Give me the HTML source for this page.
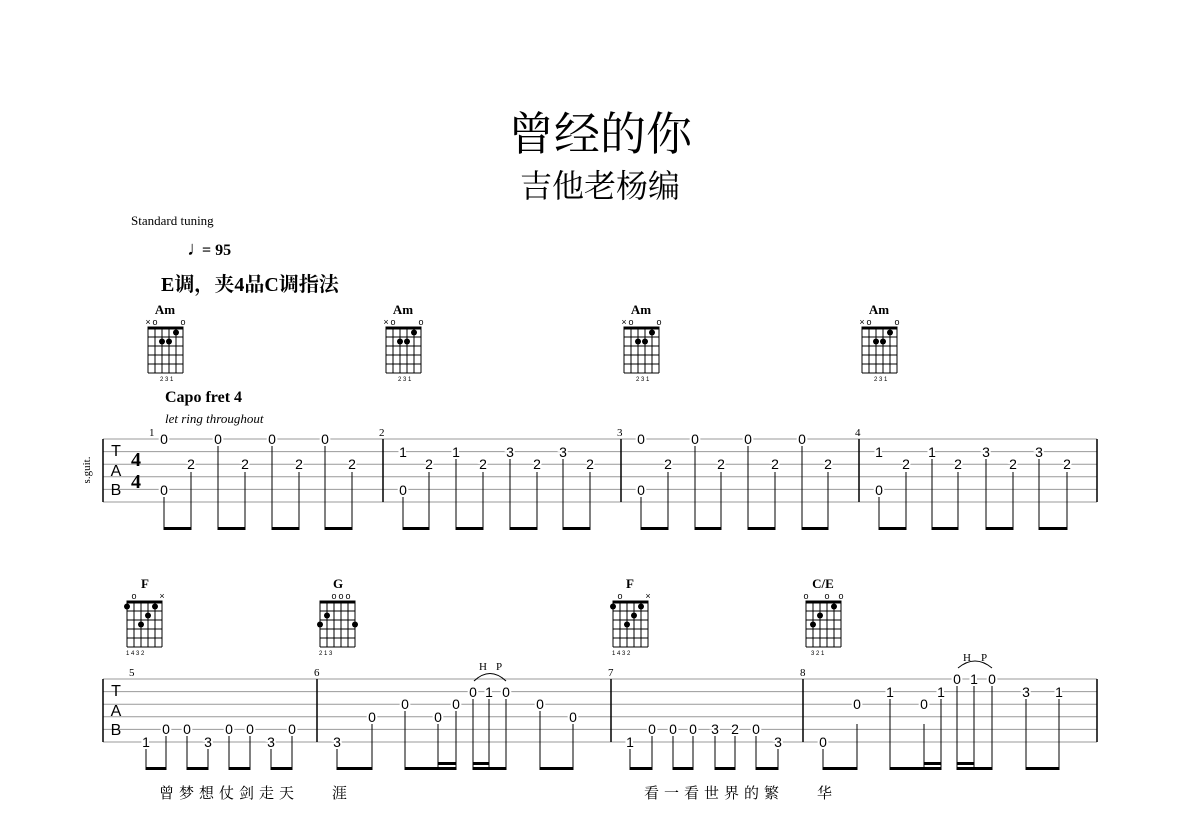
<!DOCTYPE html>
<html><head><meta charset="utf-8"><style>
html,body{margin:0;padding:0;background:#fff;width:1200px;height:832px;overflow:hidden}
svg{display:block}
.t{font-family:"Liberation Sans",sans-serif;font-size:14px;text-anchor:middle;fill:#000;stroke:#fff;stroke-width:4px;paint-order:stroke}
.sm{font-family:"Liberation Serif",serif;font-size:11px;fill:#000}
.cn{font-family:"Liberation Serif",serif;font-weight:bold;font-size:13px;text-anchor:middle}
.fg{font-family:"Liberation Sans",sans-serif;font-size:6px;fill:#000}
.oc{font-family:"Liberation Sans",sans-serif;font-size:9px;text-anchor:middle}
.ly{font-family:"Liberation Serif","Noto Serif CJK SC",serif;font-size:15px;letter-spacing:5px}
</style></head><body>
<svg width="1200" height="832" viewBox="0 0 1200 832" xmlns="http://www.w3.org/2000/svg">
<defs>
<g id="grid" stroke="#000" stroke-width="1" fill="none">
<line x1="0" y1="0" x2="0" y2="45"/><line x1="7" y1="0" x2="7" y2="45"/><line x1="14" y1="0" x2="14" y2="45"/><line x1="21" y1="0" x2="21" y2="45"/><line x1="28" y1="0" x2="28" y2="45"/><line x1="35" y1="0" x2="35" y2="45"/>
<line x1="0" y1="9" x2="35" y2="9"/><line x1="0" y1="18" x2="35" y2="18"/><line x1="0" y1="27" x2="35" y2="27"/><line x1="0" y1="36" x2="35" y2="36"/><line x1="0" y1="45" x2="35" y2="45"/>
<line x1="-0.5" y1="0" x2="35.5" y2="0" stroke-width="3"/>
</g>
<g id="am">
<use href="#grid"/>
<text x="0" y="-3" class="oc">×</text><text x="7" y="-3" class="oc">o</text><text x="35" y="-3" class="oc">o</text>
<circle cx="14" cy="13.5" r="3"/><circle cx="21" cy="13.5" r="3"/><circle cx="28" cy="4.5" r="3"/>
<text x="12" y="53" class="fg">2 3 1</text>
</g>
</defs>

<text x="600" y="150" text-anchor="middle" font-family="'Noto Serif CJK SC',serif" font-size="46">曾经的你</text>
<text x="600" y="197" text-anchor="middle" font-family="'Noto Serif CJK SC',serif" font-size="32">吉他老杨编</text>
<text x="131" y="225" font-family="'Liberation Serif',serif" font-size="13">Standard tuning</text>
<text x="187" y="255" font-family="'Liberation Serif',serif" font-size="20">♩</text>
<text x="202" y="255" font-family="'Liberation Serif',serif" font-weight="bold" font-size="16">= 95</text>
<text x="161" y="291" font-family="'Liberation Serif','Noto Serif CJK SC',serif" font-weight="bold" font-size="20">E调，夹4品C调指法</text>

<text x="165" y="314" class="cn">Am</text><use href="#am" x="148" y="328"/>
<text x="403" y="314" class="cn">Am</text><use href="#am" x="386" y="328"/>
<text x="641" y="314" class="cn">Am</text><use href="#am" x="624" y="328"/>
<text x="879" y="314" class="cn">Am</text><use href="#am" x="862" y="328"/>

<text x="165" y="402" font-family="'Liberation Serif',serif" font-weight="bold" font-size="16">Capo fret 4</text>
<text x="165" y="423" font-family="'Liberation Serif',serif" font-style="italic" font-size="13">let ring throughout</text>

<!-- system 1 -->
<g stroke="#999" stroke-width="1">
<line x1="103" y1="439" x2="1097" y2="439"/><line x1="103" y1="451.6" x2="1097" y2="451.6"/><line x1="103" y1="464.2" x2="1097" y2="464.2"/><line x1="103" y1="476.8" x2="1097" y2="476.8"/><line x1="103" y1="489.4" x2="1097" y2="489.4"/><line x1="103" y1="502" x2="1097" y2="502"/>
</g>
<g stroke="#000" stroke-width="1.5">
<line x1="103" y1="439" x2="103" y2="502"/><line x1="383" y1="439" x2="383" y2="502"/><line x1="621" y1="439" x2="621" y2="502"/><line x1="859" y1="439" x2="859" y2="502"/><line x1="1097" y1="439" x2="1097" y2="502"/>
</g>
<text x="90" y="470" class="sm" transform="rotate(-90 90 470)" text-anchor="middle">s.guit.</text>
<g font-family="'Liberation Sans',sans-serif" font-size="16" text-anchor="middle"><text x="116" y="456">T</text><text x="116" y="476">A</text><text x="116" y="495">B</text></g>
<g font-family="'Liberation Serif',serif" font-weight="bold" font-size="20" text-anchor="middle"><text x="136" y="466">4</text><text x="136" y="488">4</text></g>
<text x="149" y="436" class="sm">1</text><text x="379" y="436" class="sm">2</text><text x="617" y="436" class="sm">3</text><text x="855" y="436" class="sm">4</text>

<g stroke="#000" stroke-width="1">
<line x1="164" y1="497" x2="164" y2="530"/><line x1="191" y1="472" x2="191" y2="530"/><line x1="218" y1="446" x2="218" y2="530"/><line x1="245" y1="472" x2="245" y2="530"/><line x1="272" y1="446" x2="272" y2="530"/><line x1="299" y1="472" x2="299" y2="530"/><line x1="325" y1="446" x2="325" y2="530"/><line x1="352" y1="472" x2="352" y2="530"/>
<line x1="403" y1="497" x2="403" y2="530"/><line x1="429" y1="472" x2="429" y2="530"/><line x1="456" y1="459" x2="456" y2="530"/><line x1="483" y1="472" x2="483" y2="530"/><line x1="510" y1="459" x2="510" y2="530"/><line x1="537" y1="472" x2="537" y2="530"/><line x1="563" y1="459" x2="563" y2="530"/><line x1="590" y1="472" x2="590" y2="530"/>
<line x1="641" y1="497" x2="641" y2="530"/><line x1="668" y1="472" x2="668" y2="530"/><line x1="695" y1="446" x2="695" y2="530"/><line x1="721" y1="472" x2="721" y2="530"/><line x1="748" y1="446" x2="748" y2="530"/><line x1="775" y1="472" x2="775" y2="530"/><line x1="802" y1="446" x2="802" y2="530"/><line x1="828" y1="472" x2="828" y2="530"/>
<line x1="879" y1="497" x2="879" y2="530"/><line x1="906" y1="472" x2="906" y2="530"/><line x1="932" y1="459" x2="932" y2="530"/><line x1="958" y1="472" x2="958" y2="530"/><line x1="986" y1="459" x2="986" y2="530"/><line x1="1013" y1="472" x2="1013" y2="530"/><line x1="1039" y1="459" x2="1039" y2="530"/><line x1="1067" y1="472" x2="1067" y2="530"/>
</g>
<g fill="#000">
<rect x="164" y="527" width="27" height="3"/><rect x="218" y="527" width="27" height="3"/><rect x="272" y="527" width="27" height="3"/><rect x="325" y="527" width="27" height="3"/>
<rect x="403" y="527" width="26" height="3"/><rect x="456" y="527" width="27" height="3"/><rect x="510" y="527" width="27" height="3"/><rect x="563" y="527" width="27" height="3"/>
<rect x="641" y="527" width="27" height="3"/><rect x="695" y="527" width="26" height="3"/><rect x="748" y="527" width="27" height="3"/><rect x="802" y="527" width="26" height="3"/>
<rect x="879" y="527" width="27" height="3"/><rect x="932" y="527" width="26" height="3"/><rect x="986" y="527" width="27" height="3"/><rect x="1039" y="527" width="28" height="3"/>
</g>
<g class="t">
<text x="164" y="444" class="t">0</text><text x="164" y="495" class="t">0</text><text x="191" y="469" class="t">2</text><text x="218" y="444" class="t">0</text><text x="245" y="469" class="t">2</text><text x="272" y="444" class="t">0</text><text x="299" y="469" class="t">2</text><text x="325" y="444" class="t">0</text><text x="352" y="469" class="t">2</text>
<text x="403" y="457" class="t">1</text><text x="403" y="495" class="t">0</text><text x="429" y="469" class="t">2</text><text x="456" y="457" class="t">1</text><text x="483" y="469" class="t">2</text><text x="510" y="457" class="t">3</text><text x="537" y="469" class="t">2</text><text x="563" y="457" class="t">3</text><text x="590" y="469" class="t">2</text>
<text x="641" y="444" class="t">0</text><text x="641" y="495" class="t">0</text><text x="668" y="469" class="t">2</text><text x="695" y="444" class="t">0</text><text x="721" y="469" class="t">2</text><text x="748" y="444" class="t">0</text><text x="775" y="469" class="t">2</text><text x="802" y="444" class="t">0</text><text x="828" y="469" class="t">2</text>
<text x="879" y="457" class="t">1</text><text x="879" y="495" class="t">0</text><text x="906" y="469" class="t">2</text><text x="932" y="457" class="t">1</text><text x="958" y="469" class="t">2</text><text x="986" y="457" class="t">3</text><text x="1013" y="469" class="t">2</text><text x="1039" y="457" class="t">3</text><text x="1067" y="469" class="t">2</text>
</g>

<!-- chords system 2 -->
<text x="145" y="588" class="cn">F</text>
<g transform="translate(127,602)"><use href="#grid"/><text x="7" y="-3" class="oc">o</text><text x="35" y="-3" class="oc">×</text>
<circle cx="0" cy="4.5" r="3"/><circle cx="14" cy="22.5" r="3"/><circle cx="21" cy="13.5" r="3"/><circle cx="28" cy="4.5" r="3"/><text x="-1" y="53" class="fg">1   4 3 2</text></g>
<text x="338" y="588" class="cn">G</text>
<g transform="translate(320,602)"><use href="#grid"/><text x="14" y="-3" class="oc">o</text><text x="21" y="-3" class="oc">o</text><text x="28" y="-3" class="oc">o</text>
<circle cx="0" cy="22.5" r="3"/><circle cx="7" cy="13.5" r="3"/><circle cx="35" cy="22.5" r="3"/><text x="-1" y="53" class="fg">2 1           3</text></g>
<text x="630" y="588" class="cn">F</text>
<g transform="translate(613,602)"><use href="#grid"/><text x="7" y="-3" class="oc">o</text><text x="35" y="-3" class="oc">×</text>
<circle cx="0" cy="4.5" r="3"/><circle cx="14" cy="22.5" r="3"/><circle cx="21" cy="13.5" r="3"/><circle cx="28" cy="4.5" r="3"/><text x="-1" y="53" class="fg">1   4 3 2</text></g>
<text x="823" y="588" class="cn">C/E</text>
<g transform="translate(806,602)"><use href="#grid"/><text x="0" y="-3" class="oc">o</text><text x="21" y="-3" class="oc">o</text><text x="35" y="-3" class="oc">o</text>
<circle cx="7" cy="22.5" r="3"/><circle cx="14" cy="13.5" r="3"/><circle cx="28" cy="4.5" r="3"/><text x="5" y="53" class="fg">3 2     1</text></g>

<!-- system 2 -->
<g stroke="#999" stroke-width="1">
<line x1="103" y1="679" x2="1097" y2="679"/><line x1="103" y1="691.6" x2="1097" y2="691.6"/><line x1="103" y1="704.2" x2="1097" y2="704.2"/><line x1="103" y1="716.8" x2="1097" y2="716.8"/><line x1="103" y1="729.4" x2="1097" y2="729.4"/><line x1="103" y1="742" x2="1097" y2="742"/>
</g>
<g stroke="#000" stroke-width="1.5">
<line x1="103" y1="679" x2="103" y2="742"/><line x1="317" y1="679" x2="317" y2="742"/><line x1="611" y1="679" x2="611" y2="742"/><line x1="803" y1="679" x2="803" y2="742"/><line x1="1097" y1="679" x2="1097" y2="742"/>
</g>
<g font-family="'Liberation Sans',sans-serif" font-size="16" text-anchor="middle"><text x="116" y="696">T</text><text x="116" y="716">A</text><text x="116" y="735">B</text></g>
<text x="129" y="676" class="sm">5</text><text x="314" y="676" class="sm">6</text><text x="608" y="676" class="sm">7</text><text x="800" y="676" class="sm">8</text>
<text x="483" y="670" class="sm" text-anchor="middle">H</text><text x="499" y="670" class="sm" text-anchor="middle">P</text>
<text x="967" y="661" class="sm" text-anchor="middle">H</text><text x="984" y="661" class="sm" text-anchor="middle">P</text>
<path d="M474 681 Q490 666 506 681" fill="none" stroke="#000"/>
<path d="M958 668 Q975 654 992 668" fill="none" stroke="#000"/>

<g stroke="#000" stroke-width="1">
<line x1="146" y1="749" x2="146" y2="770"/><line x1="166" y1="736" x2="166" y2="770"/><line x1="187" y1="736" x2="187" y2="770"/><line x1="208" y1="749" x2="208" y2="770"/><line x1="229" y1="736" x2="229" y2="770"/><line x1="250" y1="736" x2="250" y2="770"/><line x1="271" y1="749" x2="271" y2="770"/><line x1="292" y1="736" x2="292" y2="770"/>
<line x1="337" y1="749" x2="337" y2="770"/><line x1="372" y1="724" x2="372" y2="770"/><line x1="405" y1="711" x2="405" y2="770"/><line x1="438" y1="724" x2="438" y2="770"/><line x1="456" y1="711" x2="456" y2="770"/><line x1="473" y1="699" x2="473" y2="770"/><line x1="489" y1="699" x2="489" y2="770"/><line x1="506" y1="699" x2="506" y2="770"/><line x1="540" y1="711" x2="540" y2="770"/><line x1="573" y1="724" x2="573" y2="770"/>
<line x1="630" y1="749" x2="630" y2="770"/><line x1="652" y1="736" x2="652" y2="770"/><line x1="673" y1="736" x2="673" y2="770"/><line x1="693" y1="736" x2="693" y2="770"/><line x1="715" y1="736" x2="715" y2="770"/><line x1="735" y1="736" x2="735" y2="770"/><line x1="756" y1="736" x2="756" y2="770"/><line x1="778" y1="749" x2="778" y2="770"/>
<line x1="823" y1="749" x2="823" y2="770"/><line x1="857" y1="724" x2="857" y2="770"/><line x1="890" y1="699" x2="890" y2="770"/><line x1="924" y1="724" x2="924" y2="770"/><line x1="941" y1="699" x2="941" y2="770"/><line x1="957" y1="686" x2="957" y2="770"/><line x1="974" y1="686" x2="974" y2="770"/><line x1="992" y1="686" x2="992" y2="770"/><line x1="1026" y1="699" x2="1026" y2="770"/><line x1="1059" y1="699" x2="1059" y2="770"/>
</g>
<g fill="#000">
<rect x="146" y="767" width="20" height="3"/><rect x="187" y="767" width="21" height="3"/><rect x="229" y="767" width="21" height="3"/><rect x="271" y="767" width="21" height="3"/>
<rect x="337" y="767" width="35" height="3"/><rect x="405" y="767" width="51" height="3"/><rect x="438" y="762" width="18" height="3"/><rect x="473" y="767" width="33" height="3"/><rect x="473" y="762" width="16" height="3"/><rect x="540" y="767" width="33" height="3"/>
<rect x="630" y="767" width="22" height="3"/><rect x="673" y="767" width="20" height="3"/><rect x="715" y="767" width="20" height="3"/><rect x="756" y="767" width="22" height="3"/>
<rect x="823" y="767" width="34" height="3"/><rect x="890" y="767" width="51" height="3"/><rect x="924" y="762" width="17" height="3"/><rect x="957" y="767" width="35" height="3"/><rect x="957" y="762" width="17" height="3"/><rect x="1026" y="767" width="33" height="3"/>
</g>
<g>
<text x="146" y="747" class="t">1</text><text x="166" y="734" class="t">0</text><text x="187" y="734" class="t">0</text><text x="208" y="747" class="t">3</text><text x="229" y="734" class="t">0</text><text x="250" y="734" class="t">0</text><text x="271" y="747" class="t">3</text><text x="292" y="734" class="t">0</text>
<text x="337" y="747" class="t">3</text><text x="372" y="722" class="t">0</text><text x="405" y="709" class="t">0</text><text x="438" y="722" class="t">0</text><text x="456" y="709" class="t">0</text><text x="473" y="697" class="t">0</text><text x="489" y="697" class="t">1</text><text x="506" y="697" class="t">0</text><text x="540" y="709" class="t">0</text><text x="573" y="722" class="t">0</text>
<text x="630" y="747" class="t">1</text><text x="652" y="734" class="t">0</text><text x="673" y="734" class="t">0</text><text x="693" y="734" class="t">0</text><text x="715" y="734" class="t">3</text><text x="735" y="734" class="t">2</text><text x="756" y="734" class="t">0</text><text x="778" y="747" class="t">3</text>
<text x="823" y="747" class="t">0</text><text x="857" y="709" class="t">0</text><text x="890" y="697" class="t">1</text><text x="924" y="709" class="t">0</text><text x="941" y="697" class="t">1</text><text x="957" y="684" class="t">0</text><text x="974" y="684" class="t">1</text><text x="992" y="684" class="t">0</text><text x="1026" y="697" class="t">3</text><text x="1059" y="697" class="t">1</text>
</g>
<text x="159" y="798" class="ly">曾梦想仗剑走天</text><text x="332" y="798" class="ly">涯</text>
<text x="644" y="798" class="ly">看一看世界的繁</text><text x="817" y="798" class="ly">华</text>
</svg>
</body></html>
